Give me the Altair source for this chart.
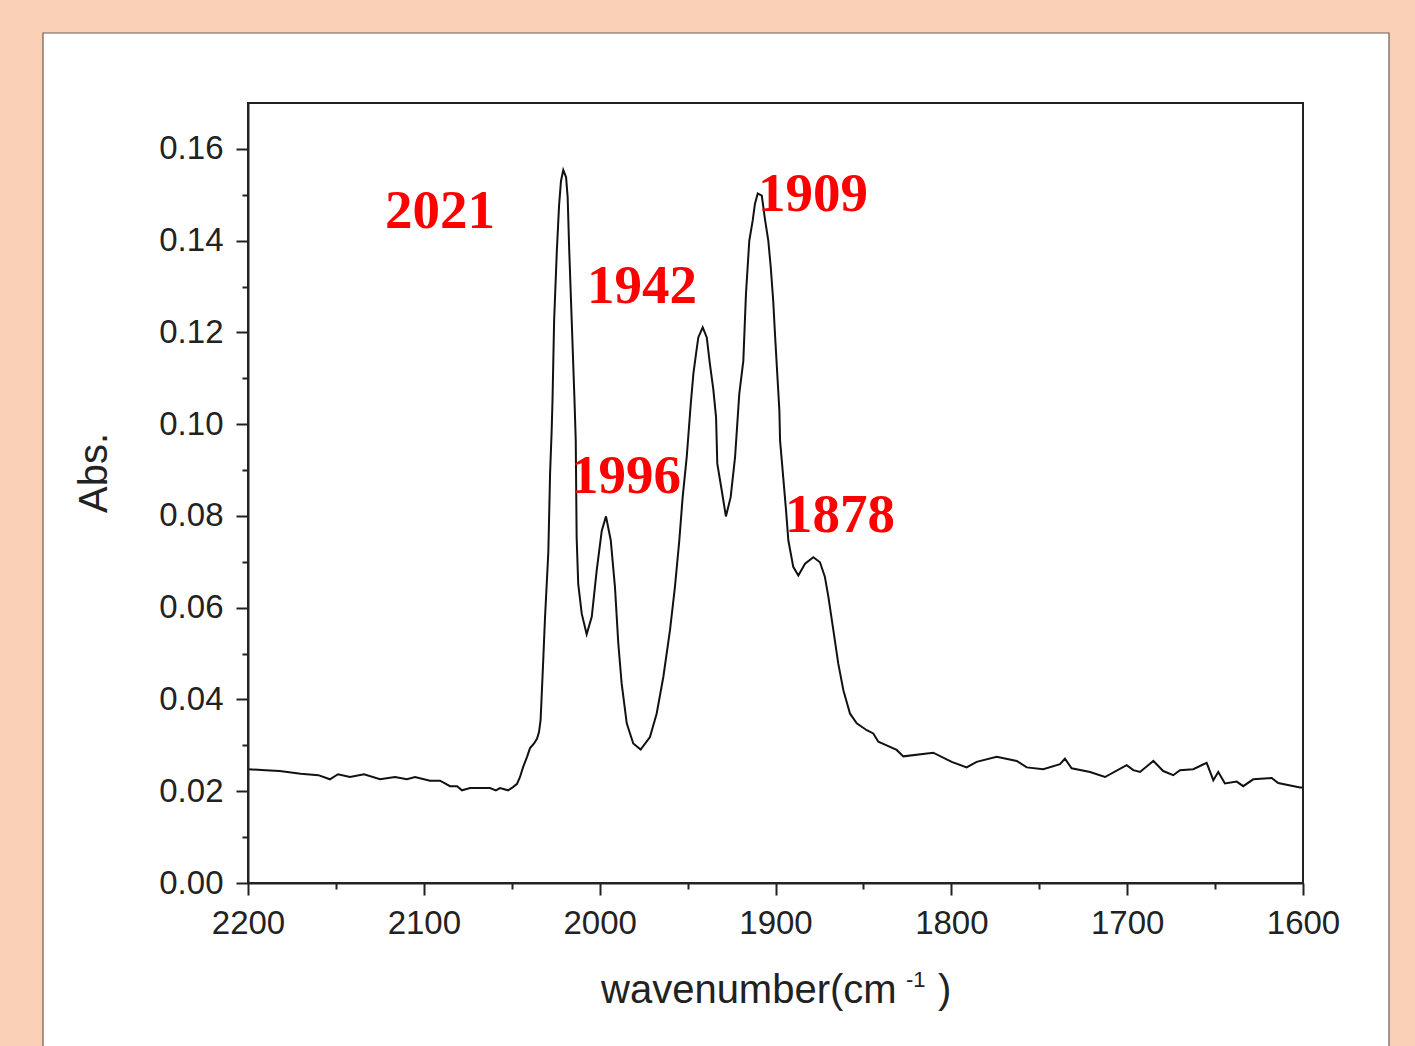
import altair as alt
import pandas as pd

# IR absorbance spectrum (wavenumber in cm^-1, absorbance)
wavenumber = [
    2200, 2190, 2182, 2170, 2160, 2153.4, 2148.8, 2142, 2134, 2124.9, 2116.4,
    2109.6, 2105, 2096.5, 2090.8, 2085.1, 2081.1, 2078.3, 2073.7, 2062.4, 2059,
    2056.7, 2052.1, 2049.3, 2047.0, 2045.3, 2043.6, 2041.3, 2039.6, 2037.3,
    2035.6, 2034.5, 2033.6, 2033.0, 2032.1, 2031.1, 2029.2, 2028.2, 2027.3,
    2026.8, 2025.9, 2024.4, 2023.1, 2022.0, 2020.7, 2019.1, 2018.2, 2017.3,
    2015.9, 2014.4, 2013.6, 2013.1, 2012.2, 2010.2, 2007.4, 2004.5, 2001.7,
    1998.8, 1996.4, 1993.7, 1991.3, 1989.4, 1987.5, 1984.6, 1980.9, 1976.7,
    1971.4, 1967.6, 1963.8, 1960.0, 1957.2, 1954.7, 1952.8, 1950.5, 1948.2,
    1946.7, 1945.2, 1943.9, 1941.4, 1939.1, 1937.3, 1935.4, 1933.8, 1933.1,
    1930.6, 1928.2, 1925.5, 1923.0, 1920.6, 1918.3, 1916.8, 1914.9, 1913.0,
    1911.7, 1910.1, 1907.8, 1906.0, 1904.1, 1902.7, 1901.3, 1900.3, 1899.0,
    1897.8, 1897.4, 1895.6, 1894.0, 1892.7, 1889.9, 1887.0, 1883.2, 1878.5,
    1874.7, 1871.9, 1869.9, 1867.1, 1864.3, 1861.4, 1857.6, 1853.8, 1848.1,
    1844.4, 1841.5, 1836.8, 1831.1, 1827.3, 1810.3, 1799.8, 1791.3, 1785.6,
    1774.2, 1762.8, 1757.1, 1747.7, 1738.2, 1735.4, 1731.6, 1721.1, 1712.6,
    1700.3, 1696.5, 1692.7, 1685.1, 1679.5, 1673.8, 1670.0, 1662.4, 1654.8,
    1651.0, 1648.2, 1644.4, 1637.7, 1634.0, 1628.3, 1617.8, 1614.1, 1601.7,
    1600,
]
absorbance = [
    0.0248, 0.0246, 0.0244, 0.0238, 0.0235, 0.0226, 0.0237, 0.0231, 0.0237,
    0.0226, 0.0231, 0.0226, 0.0231, 0.0223, 0.0223, 0.0211, 0.0211, 0.0202,
    0.0207, 0.0207, 0.0202, 0.0207, 0.0202, 0.0209, 0.0216, 0.0231, 0.0252,
    0.0275, 0.0294, 0.0304, 0.0315, 0.0329, 0.0355, 0.0406, 0.0485, 0.0577,
    0.0721, 0.0892, 0.0986, 0.1055, 0.1226, 0.1374, 0.1476, 0.1530, 0.1554,
    0.1538, 0.1494, 0.1378, 0.1226, 0.1062, 0.0964, 0.0754, 0.0652, 0.0587,
    0.0542, 0.0580, 0.0681, 0.0768, 0.0799, 0.0747, 0.0645, 0.0522, 0.0435,
    0.0348, 0.0304, 0.0291, 0.0318, 0.0369, 0.0449, 0.0551, 0.0645, 0.0747,
    0.0841, 0.0928, 0.1044, 0.1110, 0.1153, 0.1189, 0.1211, 0.1189, 0.1131,
    0.1077, 0.1015, 0.0914, 0.0856, 0.0799, 0.0841, 0.0928, 0.1066, 0.1138,
    0.1284, 0.1400, 0.1443, 0.1480, 0.1503, 0.1498, 0.1447, 0.1400, 0.1342,
    0.1269, 0.1197, 0.1110, 0.1030, 0.0964, 0.0884, 0.0812, 0.0747, 0.0689,
    0.0670, 0.0696, 0.0710, 0.0699, 0.0667, 0.0623, 0.0551, 0.0478, 0.0420,
    0.0369, 0.0348, 0.0333, 0.0326, 0.0308, 0.0300, 0.0290, 0.0276, 0.0284,
    0.0264, 0.0252, 0.0264, 0.0275, 0.0266, 0.0252, 0.0248, 0.0259, 0.0271,
    0.0250, 0.0242, 0.0231, 0.0257, 0.0246, 0.0242, 0.0266, 0.0244, 0.0235,
    0.0246, 0.0248, 0.0262, 0.0224, 0.0242, 0.0217, 0.0221, 0.0211, 0.0226,
    0.0229, 0.0218, 0.0208, 0.0208,
]

# Peak annotations
peak_text = ["2021", "1996", "1942", "1909", "1878"]
peak_wn = [2090.8, 1985.0, 1975.9, 1878.7, 1863.3]
peak_abs = [0.1428, 0.0849, 0.1265, 0.1465, 0.0764]

spectrum = pd.DataFrame({"wn": wavenumber, "absorbance": absorbance})
peaks = pd.DataFrame({"wn": peak_wn, "absorbance": peak_abs, "label": peak_text})

W, H = 1055, 780
INK = "#222222"
SANS = "Liberation Sans"

x_ticks = list(range(1600, 2201, 50))
y_ticks = [round(i * 0.01, 2) for i in range(0, 17)]

x_scale = alt.Scale(domain=[1600, 2200], reverse=True, nice=False, zero=False)
y_scale = alt.Scale(domain=[0, 0.17], nice=False, zero=False)

x_axis = alt.Axis(
    values=x_ticks,
    title="",
    grid=False,
    zindex=1,
    labelExpr="datum.value % 100 === 0 ? format(datum.value, 'd') : ''",
    tickSize={"condition": {"test": "datum.value % 100 === 0", "value": 12}, "value": 6},
    tickWidth=2,
    tickColor=INK,
    domainColor=INK,
    domainWidth=2,
    labelFont=SANS,
    labelFontSize=33,
    labelColor=INK,
    labelPadding=12,
    labelFlush=False,
    labelOverlap=False,
)
y_axis = alt.Axis(
    values=y_ticks,
    title="",
    grid=False,
    zindex=1,
    labelExpr="round(datum.value * 100) % 2 === 0 ? format(datum.value, '.2f') : ''",
    tickSize={"condition": {"test": "round(datum.value * 100) % 2 === 0", "value": 12}, "value": 6},
    tickWidth=2,
    tickColor=INK,
    domainColor=INK,
    domainWidth=2,
    labelFont=SANS,
    labelFontSize=33,
    labelColor=INK,
    labelPadding=13,
    labelFlush=False,
    labelOverlap=False,
)

one_row = alt.Data(values=[{}])

# White panel sitting on the peach page
panel = alt.Chart(one_row).mark_rect(
    fill="white", stroke="#6e5e56", strokeWidth=1.2
).encode(
    x=alt.value(-205), x2=alt.value(1141), y=alt.value(-70), y2=alt.value(980)
)

line = alt.Chart(spectrum).mark_line(color="#111111", strokeWidth=2).encode(
    x=alt.X("wn:Q", scale=x_scale, axis=x_axis),
    y=alt.Y("absorbance:Q", scale=y_scale, axis=y_axis),
)

labels = alt.Chart(peaks).mark_text(
    font="Liberation Serif", fontWeight="bold", fontSize=55, color="#ff0000",
    align="center", baseline="alphabetic",
).encode(
    x=alt.X("wn:Q", scale=x_scale),
    y=alt.Y("absorbance:Q", scale=y_scale),
    text="label:N",
)

# Box around the plotting area
frame = alt.Chart(one_row).mark_rect(
    filled=False, stroke=INK, strokeWidth=2
).encode(x=alt.value(0), x2=alt.value(W), y=alt.value(0), y2=alt.value(H))

x_title = alt.Chart(one_row).mark_text(
    font=SANS, fontSize=40, color=INK, align="left", baseline="alphabetic", text="wavenumber(cm"
).encode(x=alt.value(353), y=alt.value(900))
x_title_sup = alt.Chart(one_row).mark_text(
    font=SANS, fontSize=22, color=INK, align="left", baseline="alphabetic", text="-1"
).encode(x=alt.value(658), y=alt.value(884))
x_title_close = alt.Chart(one_row).mark_text(
    font=SANS, fontSize=40, color=INK, align="left", baseline="alphabetic", text=")"
).encode(x=alt.value(690), y=alt.value(900))

y_title = alt.Chart(one_row).mark_text(
    font=SANS, fontSize=40, color=INK, align="center", baseline="middle", angle=270, text="Abs."
).encode(x=alt.value(-153), y=alt.value(370))

chart = alt.layer(
    panel, line, labels, frame, x_title, x_title_sup, x_title_close, y_title
).properties(
    width=W,
    height=H,
    padding={"left": 248, "top": 103, "right": 112, "bottom": 163},
    autosize=alt.AutoSizeParams(type="none"),
    background="#fad0b6",
).configure_view(strokeWidth=0)

chart.save("out.html", embed_options={"renderer": "svg", "actions": False})
